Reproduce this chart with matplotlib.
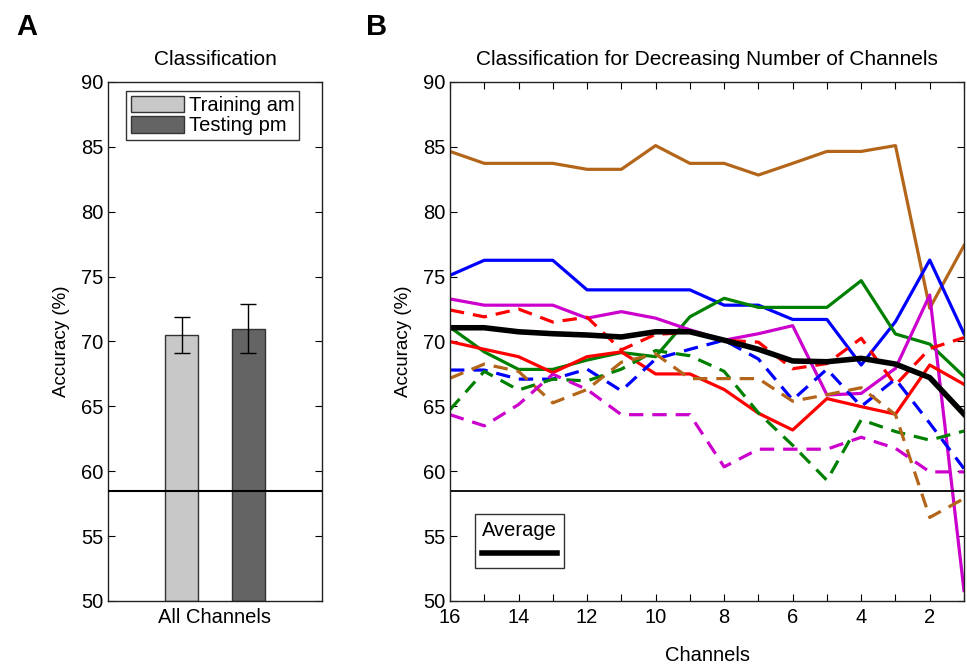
import numpy as np
import matplotlib.pyplot as plt
from matplotlib.lines import Line2D

plt.rcParams['font.family'] = ['Liberation Sans', 'DejaVu Sans']

# panel A data
bar_labels = ["Training am", "Testing pm"]
bar_values = [70.5, 71.0]
bar_err_lo = [69.1, 69.1]
bar_err_hi = [71.9, 72.9]
chance = 58.5

# panel B data, channels 16 -> 1
channels = list(range(16, 0, -1))
avg = [71.06, 71.06, 70.75, 70.6, 70.5, 70.35, 70.75, 70.75, 70.1, 69.4, 68.5, 68.44, 68.7, 68.26, 67.22, 64.4]
blue = [75.1, 76.26, 76.26, 76.26, 73.98, 73.98, 73.98, 73.98, 72.8, 72.8, 71.7, 71.7, 68.19, 71.53, 76.28, 70.6]
green = [71.1, 69.2, 67.85, 67.85, 68.57, 69.15, 68.83, 71.9, 73.33, 72.63, 72.63, 72.63, 74.69, 70.58, 69.8, 67.3]
magenta = [73.28, 72.8, 72.8, 72.8, 71.8, 72.3, 71.8, 70.9, 70.1, 70.6, 71.22, 65.88, 66.0, 67.93, 73.58, 50.8]
red = [69.99, 69.4, 68.83, 67.6, 68.83, 69.2, 67.5, 67.5, 66.3, 64.47, 63.18, 65.6, 64.98, 64.4, 68.19, 66.7]
brown = [84.65, 83.73, 83.73, 83.73, 83.27, 83.27, 85.1, 83.73, 83.73, 82.83, 83.73, 84.65, 84.65, 85.1, 72.56, 77.4]
red_d = [72.43, 71.9, 72.5, 71.5, 71.87, 69.35, 70.55, 70.7, 70.1, 69.95, 67.9, 68.3, 70.25, 66.65, 69.45, 70.3]
blue_d = [67.8, 67.8, 67.1, 67.1, 67.87, 66.2, 68.65, 69.4, 70.1, 68.65, 65.5, 67.87, 65.0, 67.1, 63.7, 60.2]
green_d = [64.75, 67.7, 66.26, 67.1, 66.96, 67.87, 69.3, 68.9, 67.7, 64.5, 62.0, 59.3, 63.97, 63.06, 62.4, 63.1]
brown_d = [67.17, 68.26, 67.7, 65.27, 66.3, 68.4, 69.04, 67.14, 67.14, 67.14, 65.4, 65.9, 66.44, 64.36, 56.44, 57.9]
magenta_d = [64.36, 63.5, 65.14, 67.48, 66.3, 64.36, 64.36, 64.36, 60.34, 61.7, 61.7, 61.7, 62.62, 61.77, 59.95, 59.95]

BLUE = '#0000FF'
GREEN = '#008000'
RED = '#FF0000'
MAG = '#CC00CC'
BROWN = '#B3661A'

TICK_FS = 14.5

fig = plt.figure(figsize=(9.67, 6.65), dpi=100)

# ---- panel A
axA = fig.add_axes([108/967, 64/665, 214/967, 519/665])
xpos = [1, 2]
cols = ['#C8C8C8', '#646464']
yerr = [[v - lo for v, lo in zip(bar_values, bar_err_lo)],
        [hi - v for v, hi in zip(bar_values, bar_err_hi)]]
for i in range(2):
    axA.bar(xpos[i], bar_values[i] - 50, bottom=50, width=0.5, color=cols[i],
            edgecolor='#333333', linewidth=1, label=bar_labels[i], zorder=2)
axA.errorbar(xpos, bar_values, yerr=yerr, fmt='none', ecolor='black',
             elinewidth=1, capsize=6, capthick=1, zorder=3)
axA.axhline(chance, color='black', lw=1.5, zorder=4)
axA.set_xlim(-0.1, 3.1)
axA.set_ylim(50, 90)
axA.set_yticks(range(50, 91, 5))
axA.set_xticks([1.5])
axA.set_xticklabels(['All Channels'])
axA.tick_params(axis='x', length=0, labelsize=TICK_FS, pad=5)
axA.tick_params(axis='y', direction='in', right=True, length=5, labelsize=TICK_FS)
axA.set_ylabel('Accuracy (%)', fontsize=13.5, labelpad=8)
axA.set_title('Classification', fontsize=15, pad=12)
leg = axA.legend(loc='upper center', bbox_to_anchor=(0.49, 0.995), fontsize=14.5,
                 frameon=True, fancybox=False, edgecolor='black', borderpad=0.25,
                 handlelength=2.6, handleheight=0.9, handletextpad=0.25,
                 labelspacing=0.05, borderaxespad=0.3)
leg.get_frame().set_linewidth(1)

# ---- panel B
axB = fig.add_axes([450/967, 64/665, 514/967, 519/665])
series = [
    (brown, BROWN, '-'), (blue, BLUE, '-'), (green, GREEN, '-'),
    (magenta, MAG, '-'), (red, RED, '-'),
    (red_d, RED, '--'), (blue_d, BLUE, '--'), (green_d, GREEN, '--'),
    (brown_d, BROWN, '--'), (magenta_d, MAG, '--'),
]
for vals, c, ls in series:
    line, = axB.plot(channels, vals, color=c, lw=2.3, ls=ls)
    if ls == '--':
        line.set_dashes((4.5, 2.8))
avg_line, = axB.plot(channels, avg, color='black', lw=4)
axB.axhline(chance, color='black', lw=1.3)
axB.set_xlim(16, 1)
axB.set_ylim(50, 90)
axB.set_yticks(range(50, 91, 5))
axB.set_xticks(range(16, 0, -1))
axB.set_xticklabels([str(c) if c % 2 == 0 else '' for c in range(16, 0, -1)])
axB.tick_params(direction='in', top=True, right=True, length=5, labelsize=TICK_FS)
axB.tick_params(axis='x', pad=5)
axB.set_ylabel('Accuracy (%)', fontsize=13.5, labelpad=8)
axB.set_xlabel('Channels', fontsize=14.5, labelpad=14)
axB.set_title('Classification for Decreasing Number of Channels', fontsize=15, pad=12)
legB = axB.legend(handles=[Line2D([], [], color='black', lw=4)], labels=[''],
                  title='Average', title_fontsize=14.5, loc='lower left',
                  bbox_to_anchor=(0.035, 0.05), frameon=True, fancybox=False,
                  edgecolor='black', handlelength=5.4, handletextpad=0,
                  borderpad=0.5)
legB.get_frame().set_linewidth(1)

for ax in (axA, axB):
    for s in ax.spines.values():
        s.set_linewidth(1)
        s.set_color('#222222')

fig.text(16/967, 1 - 27/665, 'A', fontsize=21, fontweight='bold', va='center')
fig.text(366/967, 1 - 27/665, 'B', fontsize=21, fontweight='bold', va='center')

fig.savefig('out.png', dpi=100)
